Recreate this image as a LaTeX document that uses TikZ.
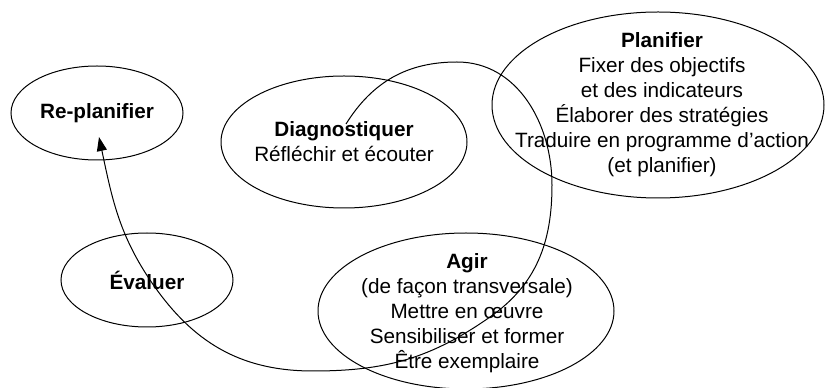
\documentclass[tikz,border=0pt]{standalone}
\usepackage{fontspec}
\setmainfont{Liberation Sans}
\usetikzlibrary{shapes.geometric,arrows.meta}
\begin{document}
\begin{tikzpicture}[x=1pt,y=1pt,line width=1pt,
  bubble/.style={draw, ellipse, inner sep=0pt},
  label/.style={inner sep=0pt, align=center, font=\fontsize{20.7}{25}\selectfont},
  cycle/.style={-{Triangle[length=14pt,width=10pt]}, line width=1pt}]
\useasboundingbox (0,0) rectangle (825,388);
\node[bubble, minimum width=172pt, minimum height=94pt] (replan) at (97,275) {};
\node[label] (replant) at (replan.center) {\textbf{Re-planifier}};
\node[bubble, minimum width=246pt, minimum height=132pt] (diag) at (344,246) {};
\node[label] (diagt) at (diag.center) {\textbf{Diagnostiquer}\\Réfléchir et écouter};
\node[bubble, minimum width=332pt, minimum height=186pt] (plan) at (658,283) {};
\node[label] (plant) at (662,283) {\textbf{Planifier}\\Fixer des objectifs\\et des indicateurs\\Élaborer des stratégies\\Traduire en programme d’action\\(et planifier)};
\node[bubble, minimum width=172pt, minimum height=94pt] (eval) at (147,108) {};
\node[label] (evalt) at (eval.center) {\textbf{Évaluer}};
\node[bubble, minimum width=296pt, minimum height=156pt] (agir) at (466,77) {};
\node[label] (agirt) at (467,75) {\textbf{Agir}\\(de façon transversale)\\Mettre en œuvre\\Sensibiliser et former\\Être exemplaire};
\coordinate (start) at (346,264);
\coordinate (top) at (457,326);
\coordinate (right) at (552,203);
\coordinate (lowright) at (490,71);
\coordinate (bottom) at (313,17);
\coordinate (left) at (157,98);
\coordinate (tip) at (99,251);
\draw[cycle] (start) to[out=58,in=180] (top) to[out=0,in=90] (right)
  to[out=270,in=35] (lowright) to[out=215,in=0] (bottom)
  to[out=180,in=-54] (left) to[out=126,in=-78] (tip);
\end{tikzpicture}
\end{document}
